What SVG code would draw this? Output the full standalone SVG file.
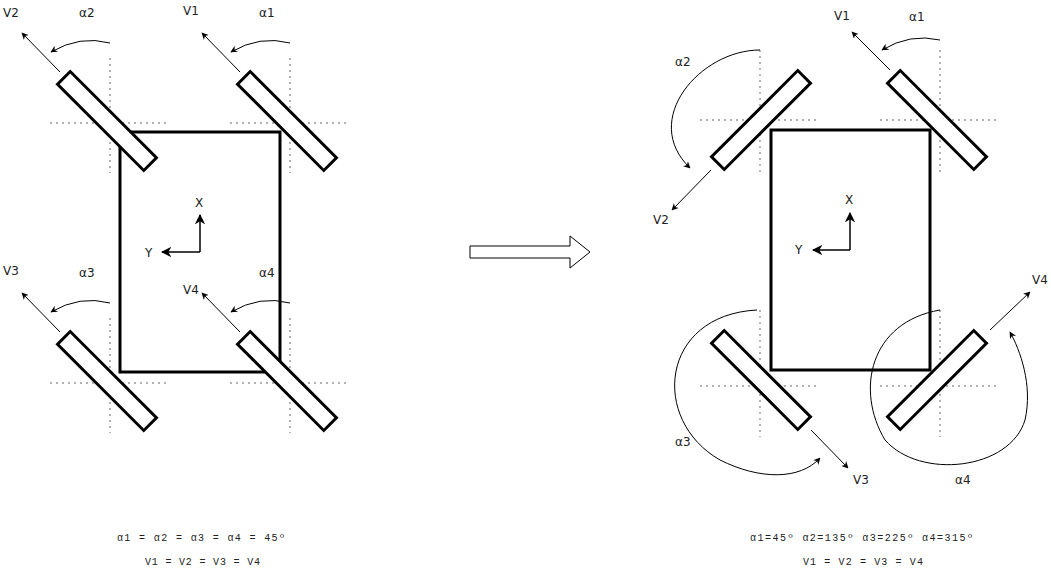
<svg xmlns="http://www.w3.org/2000/svg" width="1051" height="577" viewBox="0 0 1051 577">
<defs>
<marker id="ah" viewBox="0 0 10 10" refX="9" refY="5" markerWidth="7" markerHeight="7" orient="auto"><path d="M0,0 L10,5 L0,10 L3,5 Z" fill="#000"/></marker>
<style>
.body{fill:none;stroke:#000;stroke-width:3}
.wheel{fill:#fff;stroke:#000;stroke-width:3}
.dot{stroke:#999;stroke-width:1.5;stroke-dasharray:2 4;fill:none}
.ln{stroke:#000;stroke-width:1;fill:none;marker-end:url(#ah)}
.ax{stroke:#000;stroke-width:1.5;fill:none;marker-end:url(#ah)}
text{font-family:"DejaVu Sans",sans-serif;font-size:12px;fill:#222}
.eq{font-family:"Liberation Mono",monospace;font-size:10px}
</style>
</defs>
<rect width="1051" height="577" fill="#fff"/>
<g id="guides">
<path class="dot" d="M110,58V173M50,123H166M290,58V173M230,123H347M110,318V433M50,383H166M290,318V433M230,383H347"/>
<path class="dot" d="M760,50V172M700,120H817M940,50V172M880,120H997M760,310V437M700,386H817M940,310V437M880,386H997"/>
</g>
<g id="body-left"><rect class="body" x="120" y="132" width="160" height="240"/></g>
<g id="wheels-left">
<rect class="wheel" x="46" y="112" width="122" height="18" transform="rotate(45 107 121)"/>
<rect class="wheel" x="226" y="112" width="122" height="18" transform="rotate(45 287 121)"/>
<rect class="wheel" x="46" y="372" width="122" height="18" transform="rotate(45 107 381)"/>
<rect class="wheel" x="226" y="372" width="122" height="18" transform="rotate(45 287 381)"/>
</g>
<g id="body-right"><rect class="body" x="771" y="130" width="159" height="240"/></g>
<g id="wheels-right">
<rect class="wheel" x="700" y="111" width="122" height="18" transform="rotate(-45 761 120)"/>
<rect class="wheel" x="876" y="111" width="122" height="18" transform="rotate(45 937 120)"/>
<rect class="wheel" x="700" y="371" width="122" height="18" transform="rotate(45 761 380)"/>
<rect class="wheel" x="876" y="371" width="122" height="18" transform="rotate(-45 937 380)"/>
</g>
<g id="connectors">
<path class="ln" d="M60,72L22,33"/><path class="ln" d="M240,72L202,33"/><path class="ln" d="M60,332L22,293"/><path class="ln" d="M240,332L202,293"/>
<path class="ln" d="M110,43Q80,35 51,52"/><path class="ln" d="M290,43Q260,35 231,52"/><path class="ln" d="M110,303Q80,295 51,312"/><path class="ln" d="M290,303Q260,295 231,312"/>
<path class="ax" d="M200,252V215"/><path class="ax" d="M200,252H162"/><path class="ax" d="M850,250V213"/><path class="ax" d="M850,250H813"/>
<path class="ln" d="M890,70L852,32"/><path class="ln" d="M711,170L672,210"/><path class="ln" d="M811,430L848,468"/><path class="ln" d="M990,330L1030,292"/>
<path class="ln" d="M940,40Q910,33 882,50"/>
<path class="ln" d="M760,50C700,50 640,120 690,168"/>
<path class="ln" d="M757,310C660,315 650,420 720,460C760,480 800,480 820,458"/>
<path class="ln" d="M940,310C870,322 855,390 885,440C920,480 1010,470 1025,420C1033,385 1020,350 1010,332"/>
<path d="M470,246H570V236L590,252L570,268V258H470Z" fill="#fff" stroke="#000" stroke-width="1"/>
</g>
<g id="labels">
<text x="3" y="17">V2</text><text x="79" y="17">α2</text><text x="183" y="15">V1</text><text x="259" y="17">α1</text>
<text x="3" y="275">V3</text><text x="79" y="277">α3</text><text x="183" y="294">V4</text><text x="259" y="277">α4</text>
<text x="195" y="207">X</text><text x="145" y="257">Y</text>
<text x="834" y="20">V1</text><text x="909" y="21">α1</text><text x="675" y="66">α2</text><text x="653" y="224">V2</text>
<text x="675" y="446">α3</text><text x="853" y="484">V3</text><text x="955" y="484">α4</text><text x="1032" y="284">V4</text>
<text x="845" y="204">X</text><text x="795" y="254">Y</text>
<text class="eq" x="117" y="541" textLength="168">α1 = α2 = α3 = α4 = 45º</text>
<text class="eq" x="145" y="565" textLength="115">V1 = V2 = V3 = V4</text>
<text class="eq" x="750" y="541" textLength="223">α1=45º α2=135º α3=225º α4=315º</text>
<text class="eq" x="803" y="565" textLength="120">V1 = V2 = V3 = V4</text>
</g>
</svg>
